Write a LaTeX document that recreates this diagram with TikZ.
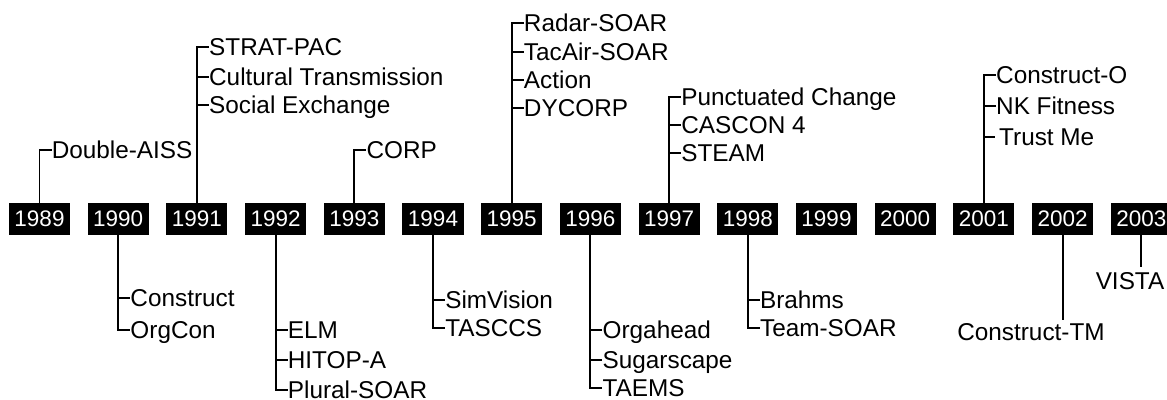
\documentclass[tikz,border=0pt]{standalone}
\usepackage{fontspec}
\setmainfont{Liberation Sans}
\usetikzlibrary{calc}
\tikzset{yearbox/.style={fill=black,text=white,minimum width=1.525cm,minimum height=.8cm,inner sep=0pt,font=\fontsize{16}{18}\selectfont},item/.style={anchor=west,inner sep=0pt,text height=12.4pt,text depth=0pt,font=\fontsize{17.3}{20}\selectfont},link/.style={draw=black,line width=1.4pt}}
\begin{document}
\begin{tikzpicture}[x=.025cm,y=-.025cm]
\useasboundingbox (0,0) rectangle (1167,400);

\node[yearbox] (y1989) at (39.5,219) {1989};
\node[yearbox] (y1990) at (118.2,219) {1990};
\node[yearbox] (y1991) at (196.9,219) {1991};
\node[yearbox] (y1992) at (275.6,219) {1992};
\node[yearbox] (y1993) at (354.3,219) {1993};
\node[yearbox] (y1994) at (433,219) {1994};
\node[yearbox] (y1995) at (511.7,219) {1995};
\node[yearbox] (y1996) at (590.4,219) {1996};
\node[yearbox] (y1997) at (669.1,219) {1997};
\node[yearbox] (y1998) at (747.8,219) {1998};
\node[yearbox] (y1999) at (826.5,219) {1999};
\node[yearbox] (y2000) at (905.2,219) {2000};
\node[yearbox] (y2001) at (983.9,219) {2001};
\node[yearbox] (y2002) at (1062.6,219) {2002};
\node[yearbox] (y2003) at (1141.3,219) {2003};

\node[item] (doubleaiss) at (51.5,150) {Double-AISS};
\node[item] (construct) at (130.2,298) {Construct};
\node[item] (orgcon) at (130.2,330) {OrgCon};
\node[item] (stratpac) at (208.9,47) {STRAT-PAC};
\node[item] (cultural) at (208.9,77) {Cultural Transmission};
\node[item] (social) at (208.9,105) {Social Exchange};
\node[item] (elm) at (287.6,330) {ELM};
\node[item] (hitop) at (287.6,360) {HITOP-A};
\node[item] (plural) at (287.6,390) {Plural-SOAR};
\node[item] (corp) at (366.3,150) {CORP};
\node[item] (simvision) at (445,300) {SimVision};
\node[item] (tasccs) at (445,328) {TASCCS};
\node[item] (radar) at (523.7,23) {Radar-SOAR};
\node[item] (tacair) at (523.7,52) {TacAir-SOAR};
\node[item] (action) at (523.7,80) {Action};
\node[item] (dycorp) at (523.7,108) {DYCORP};
\node[item] (orgahead) at (602.4,330) {Orgahead};
\node[item] (sugarscape) at (602.4,360) {Sugarscape};
\node[item] (taems) at (602.4,388) {TAEMS};
\node[item] (punctuated) at (681.1,97) {Punctuated Change};
\node[item] (cascon) at (681.1,125) {CASCON 4};
\node[item] (steam) at (681.1,153) {STEAM};
\node[item] (brahms) at (759.8,300) {Brahms};
\node[item] (teamsoar) at (759.8,328) {Team-SOAR};
\node[item] (constructo) at (995.9,75) {Construct-O};
\node[item] (nkfitness) at (995.9,106) {NK Fitness};
\node[item] (trustme) at (998.9,137) {Trust Me};
\node[item,anchor=north] (constructtm) at (1031,323) {Construct-TM};
\node[item,anchor=north] (vista) at (1130,272) {VISTA};

\draw[link] (y1989.north) |- (doubleaiss.west);
\draw[link] (y1990.south) |- (construct.west); \draw[link] (y1990.south) |- (orgcon.west);
\draw[link] (y1991.north) |- (stratpac.west); \draw[link] (y1991.north) |- (cultural.west); \draw[link] (y1991.north) |- (social.west);
\draw[link] (y1992.south) |- (elm.west); \draw[link] (y1992.south) |- (hitop.west); \draw[link] (y1992.south) |- (plural.west);
\draw[link] (y1993.north) |- (corp.west);
\draw[link] (y1994.south) |- (simvision.west); \draw[link] (y1994.south) |- (tasccs.west);
\draw[link] (y1995.north) |- (radar.west); \draw[link] (y1995.north) |- (tacair.west); \draw[link] (y1995.north) |- (action.west); \draw[link] (y1995.north) |- (dycorp.west);
\draw[link] (y1996.south) |- (orgahead.west); \draw[link] (y1996.south) |- (sugarscape.west); \draw[link] (y1996.south) |- (taems.west);
\draw[link] (y1997.north) |- (punctuated.west); \draw[link] (y1997.north) |- (cascon.west); \draw[link] (y1997.north) |- (steam.west);
\draw[link] (y1998.south) |- (brahms.west); \draw[link] (y1998.south) |- (teamsoar.west);
\draw[link] (y2001.north) |- (constructo.west); \draw[link] (y2001.north) |- (nkfitness.west); \draw[link] (y2001.north) |- ([xshift=-.1cm]trustme.west);
\draw[link] (y2002.south) -- ([yshift=.08cm]y2002.south |- constructtm.north);
\draw[link] (y2003.south) -- ([yshift=.12cm]y2003.south |- vista.north);
\end{tikzpicture}
\end{document}
